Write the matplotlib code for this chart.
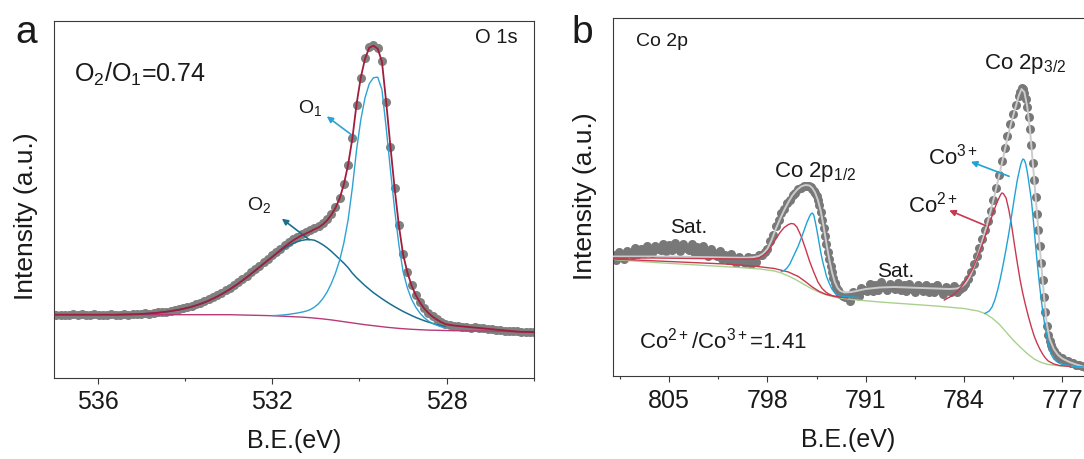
import numpy as np
import matplotlib
matplotlib.use("Agg")
import matplotlib.pyplot as plt

plt.rcParams['font.family'] = ['Liberation Sans', 'DejaVu Sans']
plt.rcParams['mathtext.fontset'] = 'custom'
plt.rcParams['mathtext.rm'] = 'Liberation Sans'
plt.rcParams['mathtext.it'] = 'Liberation Sans:italic'
plt.rcParams['mathtext.bf'] = 'Liberation Sans:bold'
plt.rcParams['mathtext.default'] = 'regular'

W, H = 1084, 459

### (a) O 1s -- binding energy grid and intensities
be_a = np.linspace(537.05, 525.99, 115)

o1s_data = [
    63.5, 62.8, 63.2, 62.4, 63.0, 63.6, 62.9, 63.3, 62.7, 63.1,
    63.4, 62.8, 63.2, 63.0, 63.6,
    63.2, 62.9, 63.5, 63.1, 63.8, 63.4, 64.1, 64.3, 64.0, 64.9,
    65.3, 65.9, 66.2, 67.1, 67.9, 68.6, 69.6, 70.8, 72.1, 73.5,
    75.2, 77.0, 78.6, 80.9, 83.0, 85.1, 87.6, 90.2, 92.9, 95.8,
    98.9, 102.0, 105.3, 108.9, 112.2, 115.8, 119.0,
    122.5, 126.0, 129.2, 132.6, 135.8, 138.6, 141.1, 143.5, 145.8,
    147.9, 150.1, 152.2, 155.0, 158.6, 163.8, 170.5, 180.2, 194.0, 213.0,
    239.5, 273.0, 300.0, 319.5, 330.5, 333.0, 329.5, 316.5, 276.0, 231.0,
    190.0, 153.0, 124.0, 106.0, 92.5, 83.0, 75.5, 69.5, 65.0, 61.5,
    58.5, 56.0, 54.0,
    53.1, 52.0, 52.0, 51.0, 51.1, 50.2, 50.3, 49.5, 49.6, 48.7,
    48.8, 47.8, 47.9, 47.1, 47.2, 46.3, 46.5,
    45.8, 46.1, 45.5, 45.8]

o1s_fit = [63.0] * 15 + [
    63.0, 63.1, 63.2, 63.3, 63.4, 63.5, 63.7, 64.0, 64.3, 64.6,
    65.0, 65.5, 66.0, 66.6, 67.3, 68.0, 68.9, 69.9, 71.0, 72.3,
    73.7, 75.3, 77.0, 79.0, 81.1, 83.4, 85.8, 88.4, 91.2, 94.1,
    97.2, 100.4, 103.7, 107.1, 110.5, 113.9, 117.3,
    120.7, 124.2, 127.7, 131.1, 134.3, 137.3, 139.9, 142.2, 144.2,
    146.1, 148.4, 150.3, 153.2, 157.2, 162.7, 169.8, 179.4, 193.5, 213.1,
    239.2, 273.8, 300.4, 319.0, 330.0, 332.0, 329.0, 316.0, 275.7, 231.4,
    189.3, 152.3, 123.3, 105.5, 92.3, 82.6, 75.1, 69.2, 64.6, 61.0,
    58.1, 55.6, 53.6,
    52.8, 52.2, 51.7, 51.3, 50.9, 50.5, 50.1, 49.7, 49.3, 48.9,
    48.5, 48.1, 47.7, 47.3, 46.9, 46.5, 46.1,
    45.9, 45.8, 45.7, 45.6]

o1s_bg = [63.0] * 41 + [
    63.0, 63.0, 62.9, 62.8, 62.7, 62.6, 62.5, 62.4, 62.3, 62.2,
    62.1, 62.0, 61.8, 61.6, 61.4, 61.2, 61.0, 60.8, 60.6, 60.3,
    60.0, 59.6, 59.2, 58.8, 58.3, 57.8, 57.2, 56.6, 56.0, 55.4,
    54.8, 54.2, 53.6, 53.0, 52.5, 52.0, 51.5, 51.0, 50.5, 50.1,
    49.7, 49.3, 49.0, 48.7, 48.4, 48.2, 48.0, 47.8, 47.6, 47.5,
    47.4, 47.3, 47.2,
    47.1, 47.0, 47.0, 46.9, 46.9, 46.8, 46.8, 46.7, 46.7, 46.6,
    46.5, 46.5, 46.4, 46.3, 46.2, 46.1, 46.0,
    45.9, 45.8, 45.7, 45.6]

# O2 component spans be_a[15:94], O1 spans be_a[52:94]
o1s_o2 = [
    63.0, 63.1, 63.2, 63.3, 63.4, 63.5, 63.7, 64.0, 64.3, 64.6,
    65.0, 65.5, 66.0, 66.6, 67.3, 68.0, 68.9, 69.9, 71.0, 72.3,
    73.7, 75.3, 77.0, 79.0, 81.1, 83.4, 85.8, 88.4, 91.2, 94.1,
    97.2, 100.4, 103.7, 107.1, 110.5, 113.9, 117.3,
    120.6, 123.8, 126.8, 129.6, 132.1, 134.3, 136.0, 137.3, 138.0,
    138.1, 137.5, 135.5, 133.0, 130.0, 126.5, 122.5, 118.5, 114.5, 110.0,
    104.5, 100.0, 96.0, 92.0, 88.5, 85.0, 82.0, 79.0, 76.2, 73.5,
    71.0, 68.6, 66.3, 64.2, 62.2, 60.3, 58.6, 57.0, 55.6, 54.3,
    53.1, 52.0, 51.0]

o1s_o1 = [
    62.1, 62.2, 62.5, 62.9, 63.4, 64.0, 64.7, 65.5, 66.5,
    68.0, 70.5, 74.0, 79.0, 85.5, 94.0, 104.5, 117.5, 135.0, 158.0,
    190.0, 228.0, 258.0, 280.0, 294.0, 300.0, 300.5, 288.0, 250.0, 208.0,
    168.0, 133.0, 106.0, 90.0, 78.5, 70.5, 64.5, 60.0, 56.6, 54.2,
    52.4, 50.9, 49.8]

### (b) Co 2p
be_b = np.concatenate([np.arange(809.0, 794.95, -0.2), np.arange(794.9, 792.45, -0.1),
                       np.arange(792.3, 780.05, -0.2), np.arange(780.0, 777.55, -0.1),
                       np.arange(777.4, 775.35, -0.2)])

co2p_data = [
    121, 116.5, 124, 120, 117.5, 125, 123, 121.5, 128, 122,
    127.5, 123, 130, 125.5, 123, 130, 127.5, 126, 132, 125.5,
    131, 126, 133, 128.5, 125, 132, 128.5, 126, 132, 124.5,
    129, 123.5, 130, 124, 120.5, 127, 123, 120, 125, 117,
    121.5, 116, 122, 116.5, 113, 119, 115.5, 113, 119, 112.5,
    118, 114, 121, 121, 124.5, 127.5, 135.5, 141.5, 150.5, 156.5,
    163.5, 167.5, 173.5, 176.5, 181.5, 183.5, 187.5, 188.5, 190.5, 190.5,
    190,
    189, 187, 185, 183, 180, 176, 171, 164, 156, 148,
    140, 132, 124, 117, 110, 104, 98, 93, 89, 86,
    84, 82, 81, 80, 79,
    80, 75, 84, 81, 80, 88, 86, 85, 92, 85.5,
    91, 86.5, 94, 89, 86, 92.5, 89.5, 87, 93, 86,
    91, 85.5, 92.5, 87, 84, 91, 88, 85.5, 91.5, 84.5,
    89, 84, 91, 86, 82.5, 89.5, 86.5, 84.5, 90.5, 84,
    87.5, 89, 92, 97, 104, 112, 120, 128, 137, 146,
    155, 165, 176, 188, 201, 215, 228, 240, 252, 262,
    271, 280,
    284, 288, 287, 283, 277, 269, 259, 247, 231, 213,
    196, 179, 162, 146, 130, 113, 96, 79, 64, 50,
    41, 35, 31, 28, 25,
    21, 18, 18, 15, 15, 13, 13, 11, 11, 10, 9.5]

fit_b_be = [
    809.0, 808.0, 807.0, 806.0, 805.0, 804.0, 803.0, 802.0, 801.0, 800.0,
    799.5, 799.0, 798.6, 798.3, 798.0, 797.7, 797.4, 797.1, 796.8, 796.5,
    796.2, 795.9, 795.6, 795.3, 795.0, 794.8, 794.6, 794.4, 794.2, 794.0,
    793.8, 793.6, 793.4, 793.2, 793.0, 792.8, 792.5, 792.0, 791.5, 791.0,
    790.0, 789.0, 788.0, 787.0, 786.0, 785.0, 784.5, 784.2, 783.9, 783.6,
    783.3, 783.0, 782.7, 782.4, 782.1, 781.8, 781.5, 781.2, 780.9, 780.6,
    780.3, 780.1, 779.9, 779.7, 779.5, 779.3, 779.1, 778.9, 778.7, 778.5,
    778.3, 778.1, 777.9, 777.6, 777.3, 777.0, 776.5, 776.0, 775.4]
co2p_fit = [
    119.5, 119.5, 119.5, 119.5, 119.5, 119.3, 119.0, 118.8, 118.5, 118.3,
    118.3, 118.8, 120.0, 122.5, 127.0, 136.0, 147.0, 157.0, 166.0, 174.0,
    181.0, 186.0, 189.5, 191.0, 190.5, 188.0, 183.5, 176.0, 165.0, 150.0,
    133.0, 117.0, 104.0, 94.0, 88.0, 85.0, 83.5, 84.0, 85.5, 87.0,
    88.5, 89.0, 88.5, 88.0, 87.5, 87.0, 87.5, 89.0, 92.5, 99.0,
    109.0, 121.0, 135.0, 149.0, 165.0, 182.0, 200.0, 219.0, 238.0, 255.0,
    270.0, 280.0, 287.0, 284.0, 270.0, 247.0, 214.0, 180.0, 146.0, 112.0,
    80.0, 52.0, 37.0, 27.0, 21.0, 17.5, 14.0, 11.5, 9.0]

bg_b_be = [809.0, 806.0, 803.0, 800.0, 798.5, 797.5, 797.0, 796.5, 796.0, 795.5,
           795.0, 794.5, 794.0, 793.5, 793.0, 792.0, 790.0, 788.0, 786.0, 784.0,
           783.0, 782.5, 782.0, 781.5, 781.0, 780.5, 780.0, 779.5, 779.0, 778.5,
           778.0, 777.0, 776.0, 775.4]
co2p_bg = [116.5, 113.5, 111.0, 108.5, 107.0, 105.0, 103.0, 100.0, 96.5, 92.5,
           88.5, 85.0, 82.0, 80.0, 78.5, 76.5, 74.0, 72.0, 70.0, 67.5,
           65.0, 62.5, 58.0, 52.0, 44.0, 36.0, 29.0, 22.5, 17.0, 13.5,
           11.5, 10.0, 9.5, 9.0]

# Co3+ 2p3/2 and 2p1/2
co3_32_be = [782.5, 782.2, 782.0, 781.8, 781.6, 781.4, 781.2, 781.0, 780.8, 780.6,
             780.4, 780.2, 780.0, 779.9, 779.8, 779.7, 779.6, 779.5, 779.4, 779.3,
             779.2, 779.1, 779.0, 778.9, 778.8, 778.7, 778.6, 778.5, 778.4, 778.3,
             778.2, 778.0, 777.8, 777.6, 777.3, 777.0, 776.5, 776.0, 775.4]
co3_32 = [62.5, 65, 69, 76, 86, 98, 112, 127, 143, 161,
          179, 196, 209, 214, 217, 216, 212, 205, 196, 186,
          176, 162, 147, 131, 116, 102, 89, 77, 66, 56,
          47, 33, 22, 17, 13.5, 11.5, 10.5, 9.5, 9]
co3_12_be = [797.0, 796.8, 796.6, 796.4, 796.2, 796.0, 795.8, 795.6, 795.4, 795.2,
             795.0, 794.9, 794.8, 794.7, 794.6, 794.5, 794.4, 794.3, 794.2, 794.1,
             794.0, 793.9, 793.8, 793.6, 793.4, 793.2, 793.0, 792.6, 792.0, 791.5]
co3_12 = [104.5, 105.5, 108, 112, 118, 124, 130, 137.5, 145, 153,
          159.5, 162, 163, 161, 155, 148, 140, 132, 124, 117,
          111, 106, 100, 93, 87, 83, 81, 79.5, 79, 78.5]

# Co2+ 2p3/2 and 2p1/2, plus the satellite tail
co2_32_be = [785.4, 785.0, 784.6, 784.2, 783.8, 783.4, 783.0, 782.6, 782.2, 781.8,
             781.6, 781.4, 781.3, 781.2, 781.0, 780.8, 780.6, 780.4, 780.2, 780.0,
             779.8, 779.6, 779.4, 779.2, 779.0, 778.8, 778.6, 778.4, 778.2, 778.0,
             777.6, 777.2, 776.8, 776.4]
co2_32 = [76, 79, 83, 89, 97, 107, 120, 135, 152, 168,
          175, 181, 183, 182.5, 178, 166, 150, 131, 113, 96,
          82, 70, 59, 49, 40, 33, 27, 22, 18, 15,
          12, 10.5, 10, 9.5]
co2_12_be = [809.0, 806.0, 803.0, 800.0, 799.0, 798.6, 798.3, 798.0, 797.7, 797.4,
             797.1, 796.8, 796.5, 796.3, 796.1, 795.9, 795.6, 795.3, 795.0, 794.7,
             794.4, 794.1, 793.8, 793.5, 793.2, 792.9, 792.5]
co2_12 = [118, 118, 117.5, 117, 117, 118, 120.5, 124, 130, 137,
          143.5, 148.5, 151.5, 152.5, 152, 149, 140, 128, 115, 104,
          94, 87.5, 83.5, 81, 79.5, 79, 78.5]
sat_be = [809.0, 805.0, 801.0, 799.0, 797.5, 796.5, 795.8, 795.3, 794.8, 794.3,
          793.8, 793.3, 792.8, 792.3]
co2_sat = [117, 114.5, 112, 110, 107.5, 104, 99.5, 94.5, 89, 84.5,
           81.5, 80, 79, 78]

### Plot
fig = plt.figure(figsize=(W / 100, H / 100), dpi=100)
ax1 = fig.add_axes([54.4 / W, 1 - 377.7 / H, 479.3 / W, 357 / H])
ax2 = fig.add_axes([612.9 / W, 1 - 376 / H, (W - 612.9) / W, 357.7 / H])

# panel a
ax1.plot(be_a, o1s_data, 'o', color='#808080', ms=6.5, mec='none', zorder=1)
ax1.plot(be_a, o1s_bg, color='#b83a78', lw=1.0, zorder=2)
ax1.plot(be_a[15:94], o1s_o2, color='#1b6f8e', lw=1.1, zorder=3)
ax1.plot(be_a[52:94], o1s_o1, color='#2ea3d3', lw=1.0, zorder=3)
ax1.plot(be_a, o1s_fit, color='#a01e3c', lw=1.3, zorder=4)

ax1.annotate('', xy=(530.80, 263), xytext=(530.03, 238),
             arrowprops=dict(arrowstyle='-|>', color='#2ea3d3', lw=1.2, mutation_scale=9))
ax1.annotate('', xy=(531.83, 160.7), xytext=(531.10, 136.3),
             arrowprops=dict(arrowstyle='-|>', color='#1b6f8e', lw=1.2, mutation_scale=9))

ax1.set_xlim(537.0, 526.0)
ax1.set_ylim(0, 357)
ax1.set_xticks([536, 532, 528])
ax1.set_xticks([534, 530, 526], minor=True)

# panel b
ax2.plot(be_b, co2p_data, 'o', color='#787878', ms=6.5, mec='none', zorder=1)
ax2.plot(bg_b_be, co2p_bg, color='#a9d18e', lw=1.0, zorder=2)
ax2.plot(fit_b_be, co2p_fit, color='#cbcbcb', lw=1.4, zorder=3)
ax2.plot(sat_be, co2_sat, color='#c9384f', lw=1.0, zorder=4)
ax2.plot(co2_12_be, co2_12, color='#c9384f', lw=1.0, zorder=4)
ax2.plot(co2_32_be, co2_32, color='#c9384f', lw=1.0, zorder=4)
ax2.plot(co3_12_be, co3_12, color='#1fa3d6', lw=1.0, zorder=5)
ax2.plot(co3_32_be, co3_32, color='#1fa3d6', lw=1.0, zorder=5)

ax2.annotate('', xy=(783.69, 215.3), xytext=(780.60, 198.7),
             arrowprops=dict(arrowstyle='-|>', color='#1fa3d6', lw=1.2, mutation_scale=9))
ax2.annotate('', xy=(785.23, 166.7), xytext=(782.27, 149.3),
             arrowprops=dict(arrowstyle='-|>', color='#c9384f', lw=1.2, mutation_scale=9))

ax2.set_xlim(809.0, 775.45)
ax2.set_ylim(0, 357.7)
ax2.set_xticks([805, 798, 791, 784, 777])
ax2.set_xticks([808.5, 801.5, 794.5, 787.5, 780.5], minor=True)
ax2.spines['right'].set_visible(False)

for ax in (ax1, ax2):
    ax.set_yticks([])
    for s in ax.spines.values():
        s.set_linewidth(0.8)
        s.set_color('#3a3a3a')
    ax.tick_params(axis='x', which='major', direction='out', length=4, width=0.8,
                   labelsize=18, pad=5, colors='#3a3a3a', labelcolor='#1a1a1a')
    ax.tick_params(axis='x', which='minor', direction='out', length=2.2, width=0.8,
                   colors='#3a3a3a')
    ax.set_xlabel('B.E.(eV)', fontsize=18, labelpad=11, color='#1a1a1a')
    ax.set_ylabel('Intensity (a.u.)', fontsize=19, color='#1a1a1a')

ax1.yaxis.set_label_coords(-0.034, 0.453)
ax2.yaxis.set_label_coords(-0.034, 0.503)

# labels and notes (pixel positions)
def put(x, y, s, size, **kw):
    fig.text(x / W, 1 - y / H, s, fontsize=size, va='baseline', color='#1a1a1a', **kw)

put(15, 43, 'a', 28)
put(571, 43, 'b', 28)
put(518, 43, 'O 1s', 14.5, ha='right')
put(74, 82, 'O$_2$/O$_1$=0.74', 18)
put(298, 113, 'O$_1$', 14)
put(247, 210, 'O$_2$', 14)
put(636, 46, 'Co 2p', 14)
put(984, 69, 'Co 2p$_{3/2}$', 16)
put(774, 177, 'Co 2p$_{1/2}$', 16)
put(928, 164, 'Co$^{3+}$', 16)
put(908, 212, 'Co$^{2+}$', 16)
put(670, 233, 'Sat.', 15)
put(877, 277, 'Sat.', 15)
put(639, 348, 'Co$^{2+}$/Co$^{3+}$=1.41', 16)

fig.savefig('out.png', dpi=100, facecolor='white')
